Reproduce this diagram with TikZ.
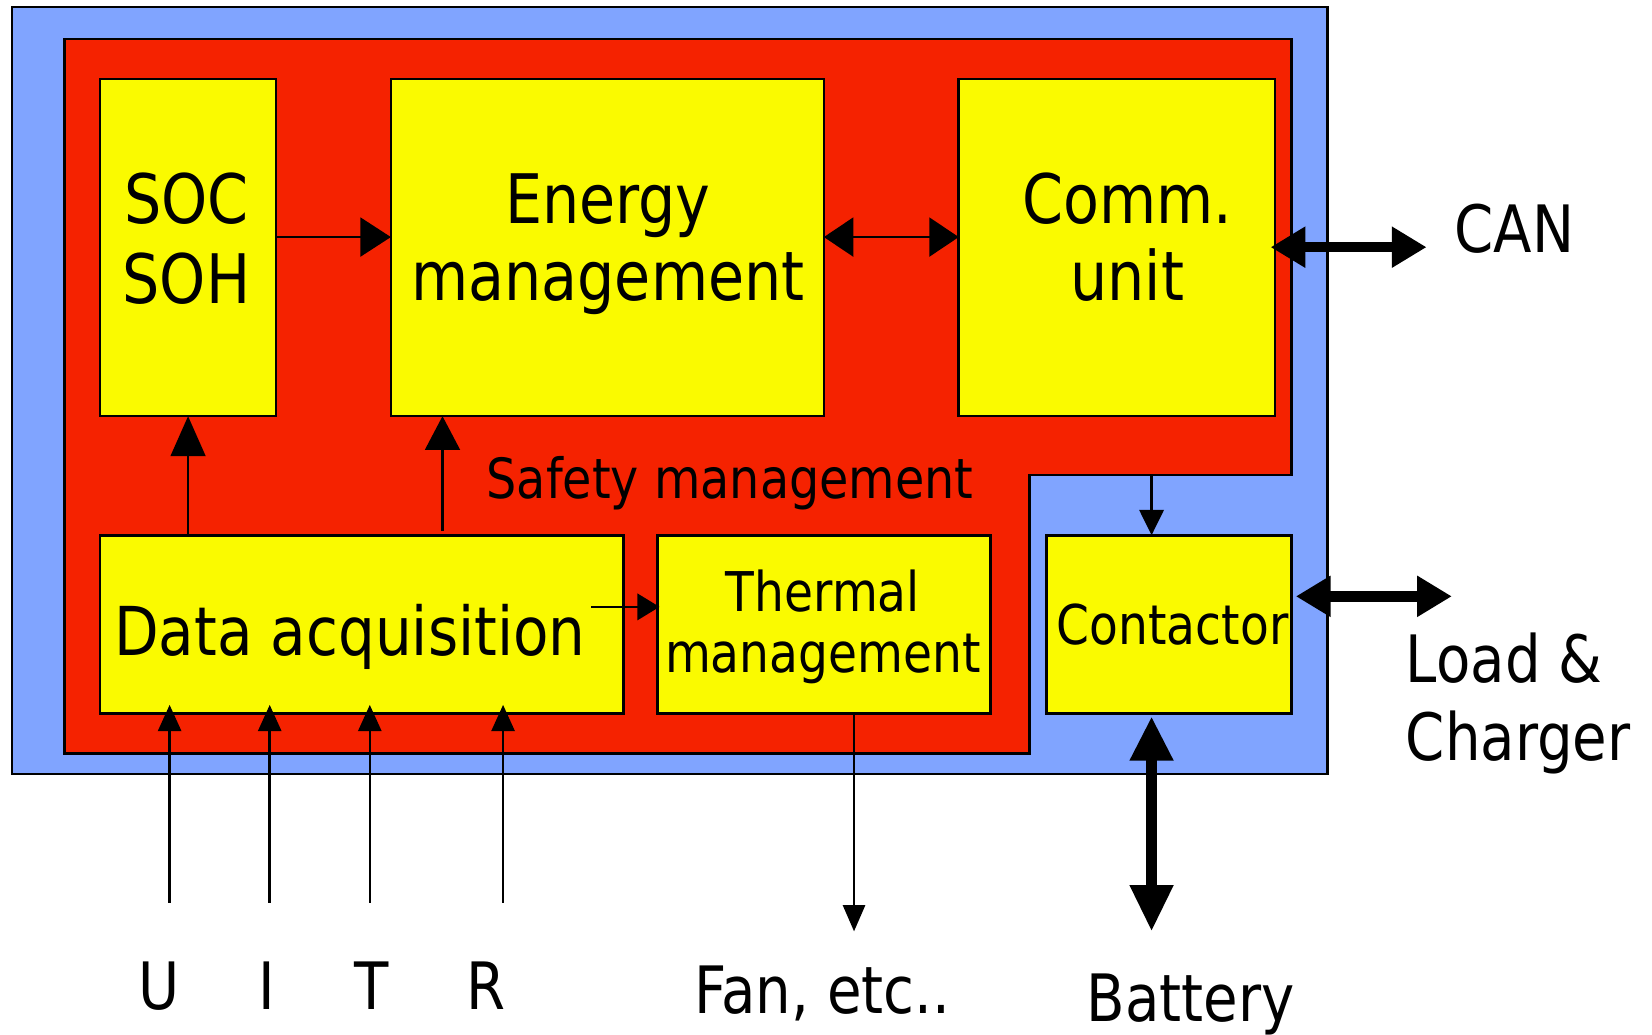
\documentclass[tikz,border=0pt]{standalone}
\usepackage{fontspec}
\setmainfont{DejaVu Sans}[FakeStretch=0.86]
\usetikzlibrary{arrows.meta}
\definecolor{bmsblue}{RGB}{128,164,255}
\definecolor{bmsred}{RGB}{245,34,0}
\definecolor{bmsyellow}{RGB}{250,250,0}
\begin{document}
\begin{tikzpicture}[x=0.5pt,y=-0.5pt,
  ybox/.style={draw=black, line width=1.25pt, fill=bmsyellow, inner sep=0pt, outer sep=0pt},
  bigtxt/.style={inner sep=0pt, anchor=base, font=\fontsize{32.4pt}{38pt}\selectfont},
  datatxt/.style={inner sep=0pt, anchor=base, font=\fontsize{32pt}{37pt}\selectfont},
  smtxt/.style={inner sep=0pt, anchor=base, font=\fontsize{26pt}{30pt}\selectfont},
  saftxt/.style={inner sep=0pt, anchor=base, font=\fontsize{26.3pt}{30pt}\selectfont},
  outtxt/.style={inner sep=0pt, anchor=base, font=\fontsize{31pt}{36pt}\selectfont},
  thinarrow/.style={draw=black, line width=1.2pt},
  thickarrow/.style={draw=black, line width=5pt},
]
\useasboundingbox (0,0) rectangle (1568,982);
% background regions
\draw[line width=1pt, fill=bmsblue] (11,7) rectangle (1260,735);
\draw[line width=1.25pt, fill=bmsred] (61,37) -- (1226,37) -- (1226,451) -- (977,451) -- (977,715) -- (61,715) -- cycle;
\coordinate (notch) at (1093,451);
% boxes
\node[ybox, minimum width=83.5pt, minimum height=160pt] (soc) at (178.5,235) {};
\node[ybox, minimum width=205.5pt, minimum height=160pt] (energy) at (576.5,235) {};
\node[ybox, minimum width=150pt, minimum height=160pt] (comm) at (1060,235) {};
\node[ybox, minimum width=248.5pt, minimum height=84.5pt] (data) at (343.5,592.5) {};
\node[ybox, minimum width=158pt, minimum height=84.5pt] (thermal) at (782,592.5) {};
\node[ybox, minimum width=116.5pt, minimum height=84.5pt] (contactor) at (1109.5,592.5) {};
% texts
\node[bigtxt] (socA) at (177,212) {SOC};
\node[bigtxt] (socB) at (177,288) {SOH};
\node[bigtxt] (enA) at (577,212) {Energy};
\node[bigtxt] (enB) at (577,285) {management};
\node[bigtxt] (coA) at (1070,212) {Comm.};
\node[bigtxt] (coB) at (1070,285) {unit};
\node[datatxt] (daT) at (332,622) {Data acquisition};
\node[smtxt] (thA) at (781,580) {Thermal};
\node[smtxt] (thB) at (781,638) {management};
\node[smtxt] (ctT) at (1113,612) {Contactor};
\node[saftxt] (saf) at (693,473) {Safety management};
\node[outtxt, anchor=base west] (can) at (1380,240) {CAN};
\node[outtxt, anchor=base west] (loadA) at (1334,648) {Load \&};
\node[outtxt, anchor=base west] (loadB) at (1334,722) {Charger};
\node[outtxt] (tU) at (150.5,958) {U};
\node[outtxt] (tI) at (253,958) {I};
\node[outtxt] (tT) at (353,958) {T};
\node[outtxt] (tR) at (461.5,958) {R};
\node[outtxt] (fan) at (780.5,962) {Fan, etc..};
\node[outtxt] (bat) at (1130,970) {Battery};
% coordinates for free ends
\coordinate (canend) at (1354,234.6);
\coordinate (loadend) at (1378,566);
\coordinate (batend) at (1093,884);
\coordinate (fanend) at (810.6,884);
\coordinate (enup) at (420,504);
\coordinate (dstart) at (561,576);
\coordinate (uS) at (161,857);
\coordinate (iS) at (256,857);
\coordinate (tS) at (351,857);
\coordinate (rS) at (477.5,857);
% connectors
\draw[thinarrow, -{Triangle[length=14.5pt,width=18.5pt]}] ([yshift=5pt]soc.east) -- ([yshift=5pt]energy.west);
\draw[thinarrow, {Triangle[length=14pt,width=18.5pt]}-{Triangle[length=14pt,width=18.5pt]}] ([yshift=5pt]energy.east) -- ([yshift=5pt]comm.east -| comm.west);
\draw[thickarrow, {Triangle[length=16.5pt,width=18.5pt]}-{Triangle[length=16.5pt,width=18.5pt]}] ([xshift=-2pt]canend -| comm.east) -- (canend);
\draw[thinarrow, -{Triangle[length=19pt,width=16.5pt]}] (soc.south |- data.north) -- (soc.south);
\draw[thinarrow, -{Triangle[length=16pt,width=16.5pt]}] (enup) -- (enup |- energy.south);
\draw[thinarrow, -{Triangle[length=10.5pt,width=12.5pt]}] (dstart) -- ([xshift=1pt]dstart -| thermal.west);
\draw[thinarrow, -{Triangle[length=12.5pt,width=10.5pt]}] (fanend |- thermal.south) -- (fanend);
\draw[thinarrow, -{Triangle[length=12pt,width=11.5pt]}] (notch) -- (notch |- contactor.north);
\draw[thickarrow, {Triangle[length=16.5pt,width=18.5pt]}-{Triangle[length=16.5pt,width=18.5pt]}] ([xshift=2pt]loadend -| contactor.east) -- (loadend);
\draw[thickarrow, {Triangle[length=21pt,width=19.5pt]}-{Triangle[length=22pt,width=19.5pt]}] ([yshift=-1.5pt]batend |- contactor.south) -- (batend);
\draw[thinarrow, -{Triangle[length=12.5pt,width=11pt]}] (uS) -- ([yshift=4pt]uS |- data.south);
\draw[thinarrow, -{Triangle[length=12.5pt,width=11pt]}] (iS) -- ([yshift=4pt]iS |- data.south);
\draw[thinarrow, -{Triangle[length=12.5pt,width=11pt]}] (tS) -- ([yshift=4pt]tS |- data.south);
\draw[thinarrow, -{Triangle[length=12.5pt,width=11pt]}] (rS) -- ([yshift=4pt]rS |- data.south);
\end{tikzpicture}
\end{document}
